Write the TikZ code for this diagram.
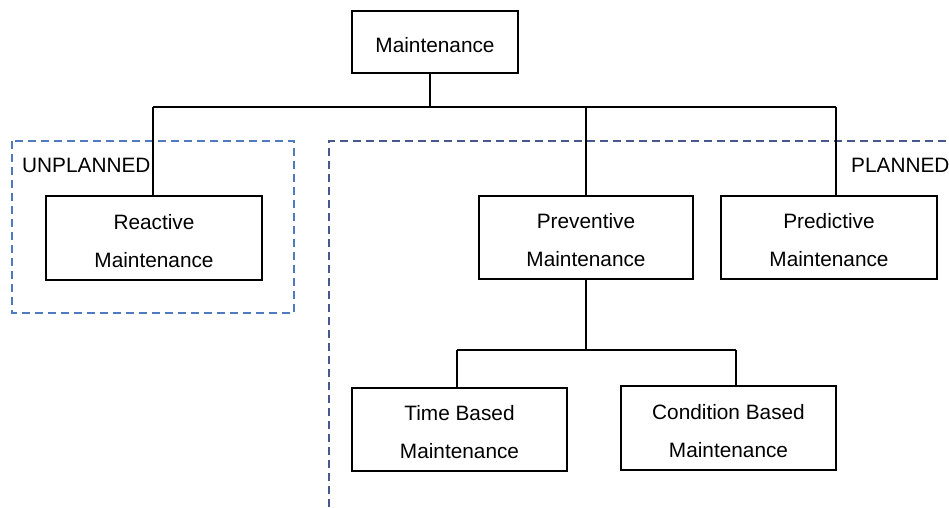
\documentclass[tikz,border=0pt]{standalone}
\usepackage{fontspec}
\setmainfont{Liberation Sans}
\begin{document}
\begin{tikzpicture}[x=1pt,y=-1pt,
  boxbase/.style={draw=black,line width=1.6pt,rectangle,inner sep=0pt,align=center,
    font=\fontsize{20.8}{38}\selectfont},
  box/.style={boxbase,text height=21pt,text depth=0pt},
  twobox/.style={boxbase,text height=58pt,text depth=0pt},
  link/.style={draw=black,line width=1.6pt},
  zone/.style={line width=1.8pt,dash pattern=on 8pt off 5pt},
  zonelabel/.style={inner sep=0pt,anchor=base west,font=\fontsize{20.8}{24}\selectfont}]
\definecolor{unplannedblue}{RGB}{79,122,192}
\definecolor{plannedblue}{RGB}{72,88,140}
\useasboundingbox (0,0) rectangle (949,507);

% dashed group frames
\draw[zone,draw=unplannedblue] (12,141) rectangle (294,313);
\draw[zone,draw=plannedblue] (329,507) -- (329,141) -- (949,141);
\node[zonelabel] (unpl) at (22,172) {UNPLANNED};
\node[zonelabel] (plan) at (851,172) {PLANNED};

% boxes
\node[box,minimum width=166pt,minimum height=62pt] (top) at (435,42) {Maintenance};
\node[twobox,minimum width=216pt,minimum height=84pt] (reac) at (154,238) {Reactive\\Maintenance};
\node[twobox,minimum width=214pt,minimum height=83pt] (prev) at (586,237.5) {Preventive\\Maintenance};
\node[twobox,minimum width=216pt,minimum height=83pt] (pred) at (829,237.5) {Predictive\\Maintenance};
\node[twobox,minimum width=215pt,minimum height=83pt] (time) at (459.5,429.5) {Time Based\\Maintenance};
\node[twobox,minimum width=215pt,minimum height=84pt] (cond) at (728.5,428) {Condition Based\\Maintenance};

% junction points of the tree
\coordinate (j0) at (430,107);
\coordinate (jl) at (153,107);
\coordinate (jr) at (836,107);
\coordinate (k0) at (586,350);
\coordinate (kl) at (457,350);
\coordinate (kr) at (736,350);

% connectors
\draw[link] (j0 |- top.south) -- (j0);
\draw[link] (jl) -- (jr);
\draw[link] (jl) -- (jl |- reac.north);
\draw[link] (prev.north |- j0) -- (prev.north);
\draw[link] (jr) -- (jr |- pred.north);
\draw[link] (prev.south) -- (k0);
\draw[link] (kl) -- (kr);
\draw[link] (kl) -- (kl |- time.north);
\draw[link] (kr) -- (kr |- cond.north);
\end{tikzpicture}
\end{document}
